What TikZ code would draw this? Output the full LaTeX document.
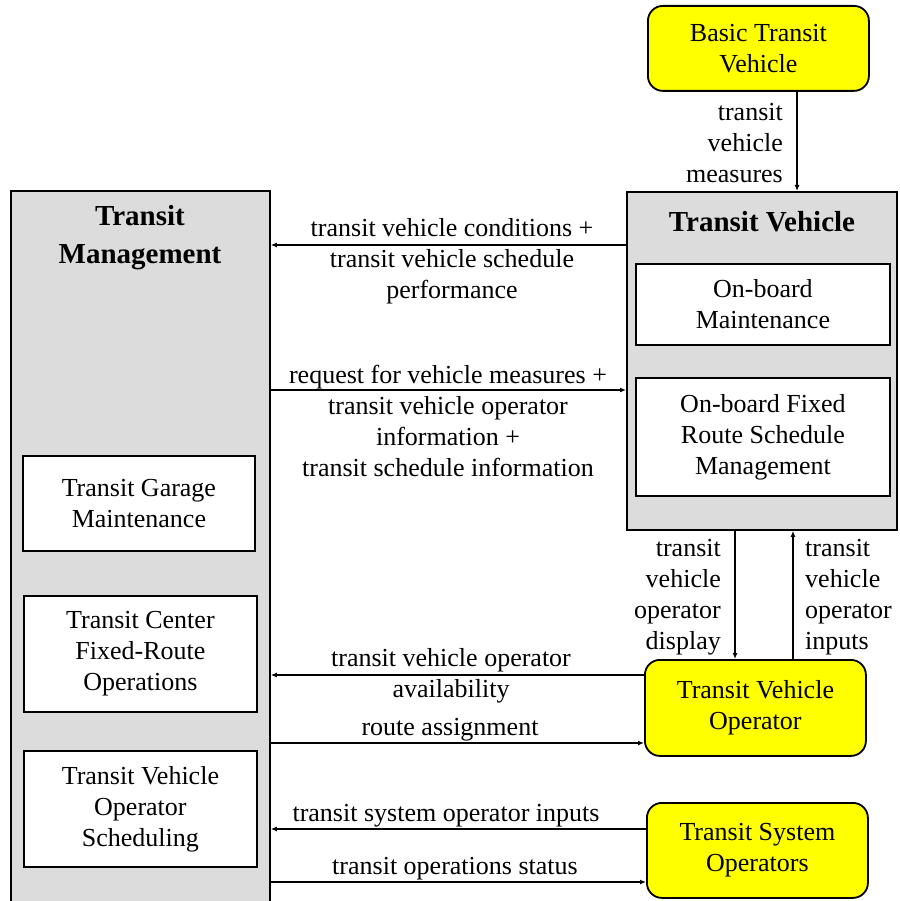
\documentclass[tikz,border=0pt]{standalone}
\usepackage{fontspec}
\setmainfont{Liberation Serif}
\usetikzlibrary{arrows.meta}
\definecolor{boxgray}{RGB}{220,220,220}
\definecolor{tyellow}{RGB}{255,255,0}
\tikzset{
  txt/.style={font=\fontsize{26}{31}\selectfont},
  graybox/.style={draw, fill=boxgray, line width=1.8pt, anchor=north west, inner sep=0pt},
  whitebox/.style={draw, fill=white, line width=1.8pt, anchor=north west, align=center, inner sep=0pt, txt},
  yellowbox/.style={draw, fill=tyellow, line width=1.8pt, rounded corners=15pt, anchor=north west, align=center, inner sep=0pt, txt},
  titletxt/.style={font=\fontsize{29}{38}\selectfont\bfseries, align=center, inner sep=0pt},
  lbl/.style={txt, align=center, inner sep=0pt},
  conn/.style={-{Latex[length=6pt,width=5pt]}, line width=1.3pt},
}
\begin{document}
\begin{tikzpicture}[x=1pt,y=-1pt]
\useasboundingbox (0,0) rectangle (899,901);
\clip (0,0) rectangle (899,901);
% Transit Management
\node (tm) [graybox, minimum width=259, minimum height=720] at (10,190) {};
\node (tmtitle) [titletxt] at (140,238) {Transit\\Management};
\node (tgm) [whitebox, minimum width=232, minimum height=95] at (22,455) {Transit Garage\\Maintenance};
\node (tcf) [whitebox, minimum width=233, minimum height=116] at (23,595) {Transit Center\\Fixed-Route\\Operations};
\node (tvos) [whitebox, minimum width=233, minimum height=116] at (23,750) {Transit Vehicle\\Operator\\Scheduling};
% Transit Vehicle
\node (tv) [graybox, minimum width=270, minimum height=338] at (626,191) {};
\node (tvtitle) [titletxt] at (762,222) {Transit Vehicle};
\node (obm) [whitebox, minimum width=254, minimum height=81] at (635,263) {On-board\\Maintenance};
\node (obf) [whitebox, minimum width=254, minimum height=118] at (635,377) {On-board Fixed\\Route Schedule\\Management};
% Terminators
\node (btv) [yellowbox, minimum width=221, minimum height=85] at (647,5) {Basic Transit\\Vehicle};
\node (tvo) [yellowbox, minimum width=221, minimum height=96] at (644,659) {Transit Vehicle\\Operator};
\node (tso) [yellowbox, minimum width=221, minimum height=95] at (646,802) {Transit System\\Operators};
% Vertical connectors
\draw[conn] (797,0 |- btv.south) -- (797,0 |- tv.north);
\draw[conn] (735,0 |- tv.south) -- (735,0 |- tvo.north);
\draw[conn] (793,0 |- tvo.north) -- (793,0 |- tv.south);
% Horizontal connectors
\draw[conn] (tv.west |- 0,245) -- (tm.east |- 0,245);
\draw[conn] (tm.east |- 0,390) -- (tv.west |- 0,390);
\draw[conn] (tvo.west |- 0,675) -- (tm.east |- 0,675);
\draw[conn] (tm.east |- 0,743) -- (tvo.west |- 0,743);
\draw[conn] (tso.west |- 0,829) -- (tm.east |- 0,829);
\draw[conn] (tm.east |- 0,882) -- (tso.west |- 0,882);
% Labels
\node (l1) [lbl] at (452,261) {transit vehicle conditions +\\transit vehicle schedule\\performance};
\node (l2) [lbl] at (448,421) {request for vehicle measures +\\transit vehicle operator\\information +\\transit schedule information};
\node (l3) [lbl] at (451,676) {transit vehicle operator\\availability};
\node (l4) [lbl] at (450,730) {route assignment};
\node (l5) [lbl] at (446,816) {transit system operator inputs};
\node (l6) [lbl] at (455,869) {transit operations status};
\node (l7) [lbl, align=right, anchor=east] at (783,143) {transit\\vehicle\\measures};
\node (l8) [lbl, align=right, anchor=east] at (721,597) {transit\\vehicle\\operator\\display};
\node (l9) [lbl, align=left, anchor=west] at (805,597) {transit\\vehicle\\operator\\inputs};
\end{tikzpicture}
\end{document}
